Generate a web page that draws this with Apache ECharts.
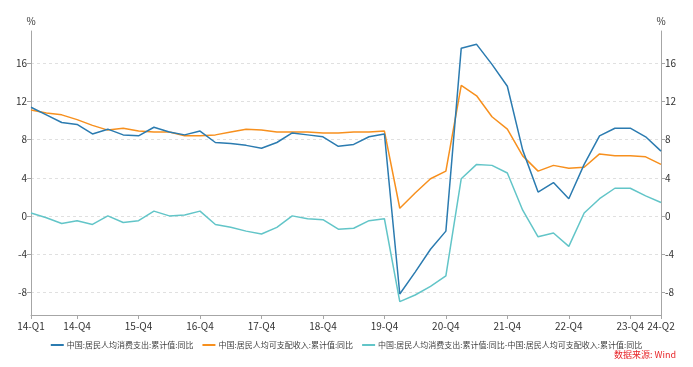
<!DOCTYPE html>
<html>
<head>
<meta charset="utf-8">
<script src="https://cdn.jsdelivr.net/npm/echarts@6/dist/echarts.min.js"></script>
<style>
html,body{margin:0;padding:0;background:#fff;}
#chart{width:693px;height:367px;}
</style>
</head>
<body>
<div id="chart"></div>
<script>
var categories = ['14-Q1','14-Q2','14-Q3','14-Q4','15-Q1','15-Q2','15-Q3','15-Q4','16-Q1','16-Q2','16-Q3','16-Q4','17-Q1','17-Q2','17-Q3','17-Q4','18-Q1','18-Q2','18-Q3','18-Q4','19-Q1','19-Q2','19-Q3','19-Q4','20-Q1','20-Q2','20-Q3','20-Q4','21-Q1','21-Q2','21-Q3','21-Q4','22-Q1','22-Q2','22-Q3','22-Q4','23-Q1','23-Q2','23-Q3','23-Q4','24-Q1','24-Q2'];
var labelIndices = [0,3,7,11,15,19,23,27,31,35,39,41];
var yTickValues = [-8,-4,0,4,8,12,16];

var seriesNames = [
  '中国:居民人均消费支出:累计值:同比',
  '中国:居民人均可支配收入:累计值:同比',
  '中国:居民人均消费支出:累计值:同比-中国:居民人均可支配收入:累计值:同比'
];

var consumption = [11.4,10.6,9.8,9.6, 8.6,9.1,8.5,8.4, 9.3,8.8,8.5,8.9, 7.7,7.6,7.4,7.1, 7.7,8.7,8.5,8.3, 7.3,7.5,8.3,8.6, -8.2,-5.9,-3.5,-1.6, 17.6,18.0,15.9,13.6, 6.9,2.5,3.5,1.8, 5.4,8.4,9.2,9.2, 8.3,6.8];
var income = [11.1,10.8,10.6,10.1, 9.5,9.0,9.2,8.9, 8.8,8.8,8.4,8.4, 8.5,8.8,9.1,9.0, 8.8,8.8,8.8,8.7, 8.7,8.8,8.8,8.9, 0.8,2.4,3.9,4.7, 13.7,12.6,10.4,9.1, 6.3,4.7,5.3,5.0, 5.1,6.5,6.3,6.3, 6.2,5.4];
var difference = [0.3,-0.2,-0.8,-0.5, -0.9,0.0,-0.7,-0.5, 0.5,0.0,0.1,0.5, -0.9,-1.2,-1.6,-1.9, -1.2,0.0,-0.3,-0.4, -1.4,-1.3,-0.5,-0.3, -9.0,-8.3,-7.4,-6.3, 3.9,5.4,5.3,4.5, 0.6,-2.2,-1.8,-3.2, 0.3,1.8,2.9,2.9, 2.1,1.4];

var colors = ['#2b7bb0','#f7901e','#62c5c8'];
var FONT = '"Noto Sans CJK SC", "Noto Sans", sans-serif';

var chart = echarts.init(document.getElementById('chart'), null, {renderer:'canvas'});

function yAxisCfg(pos){
  return {
    type:'value', position:pos, min:-10.4, max:19.4,
    name:'%', nameLocation:'end', nameGap:5,
    nameTextStyle:{color:'#333', fontSize:10, fontFamily:FONT},
    axisLine:{show:true, lineStyle:{color:'#a6a6a6', width:1}},
    axisTick:{show:true, length:4, customValues:yTickValues, lineStyle:{color:'#a6a6a6'}},
    axisLabel:{show:true, customValues:yTickValues, color:'#333', fontSize:10, fontFamily:FONT, margin:4},
    splitLine:{show:true, lineStyle:{color:'#e0e0e0', type:[3,3], width:1}}
  };
}

var option = {
  animation:false,
  backgroundColor:'#fff',
  color:colors,
  grid:{left:31, right:32, top:31, bottom:52, containLabel:false},
  legend:{
    left:'center', top:336,
    itemWidth:13, itemHeight:2, itemGap:9, icon:'rect',
    textStyle:{fontSize:8, color:'#404040', fontFamily:FONT, padding:[0,0,0,-2]},
    data:seriesNames
  },
  xAxis:{
    type:'category', data:categories, boundaryGap:false,
    axisLine:{show:true, onZero:false, lineStyle:{color:'#a6a6a6', width:1}},
    axisTick:{show:true, length:4, lineStyle:{color:'#a6a6a6'},
      interval:function(i){return labelIndices.indexOf(i) >= 0;}},
    axisLabel:{color:'#333', fontSize:10, fontFamily:FONT, margin:6, hideOverlap:false,
      interval:function(i){return labelIndices.indexOf(i) >= 0;}},
    splitLine:{show:false}
  },
  yAxis:[yAxisCfg('left'), yAxisCfg('right')],
  graphic:[{
    type:'text', right:17, top:350,
    style:{text:'数据来源: Wind', fill:'#e8262a', font:'9px ' + FONT}
  }],
  series:[
    {name:seriesNames[0], type:'line', data:consumption, yAxisIndex:0, showSymbol:false, symbol:'none', lineStyle:{width:1.5, color:colors[0]}, itemStyle:{color:colors[0]}, z:3},
    {name:seriesNames[1], type:'line', data:income, yAxisIndex:0, showSymbol:false, symbol:'none', lineStyle:{width:1.5, color:colors[1]}, itemStyle:{color:colors[1]}, z:2},
    {name:seriesNames[2], type:'line', data:difference, yAxisIndex:0, showSymbol:false, symbol:'none', lineStyle:{width:1.5, color:colors[2]}, itemStyle:{color:colors[2]}, z:1}
  ]
};
chart.setOption(option);
</script>
</body>
</html>
